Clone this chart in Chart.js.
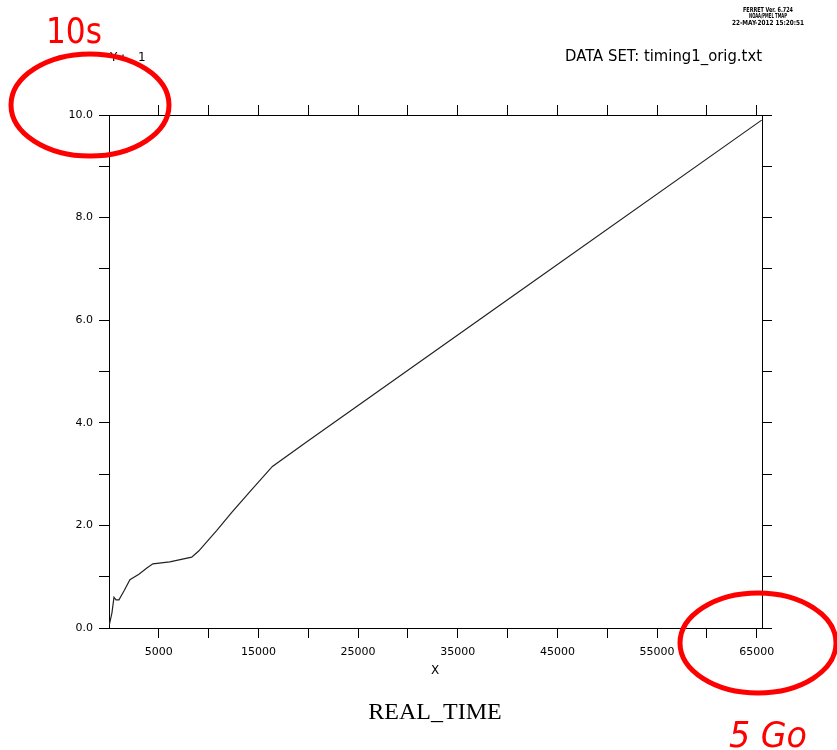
<!DOCTYPE html>
<html>
<head>
<meta charset="utf-8">
<script src="https://cdn.jsdelivr.net/npm/chart.js@4/dist/chart.umd.min.js"></script>
<style>
html,body{margin:0;padding:0;background:#fff;}
#wrap{position:relative;width:837px;height:750px;}
canvas{display:block;}
</style>
</head>
<body>
<div id="wrap"><canvas id="c" width="837" height="750"></canvas></div>
<script>
// ---- data ----
const realTimeX = [30, 300, 500, 700, 1000, 1500, 2100, 3000, 3800, 4400, 6100, 8300, 9000, 10800, 12300, 14100, 16400, 20000, 40000, 65500];
const realTimeY = [0.06, 0.3, 0.6, 0.55, 0.55, 0.72, 0.94, 1.05, 1.17, 1.25, 1.29, 1.38, 1.5, 1.9, 2.25, 2.65, 3.15, 3.65, 6.4, 9.9];

const xTickValues = [5000, 10000, 15000, 20000, 25000, 30000, 35000, 40000, 45000, 50000, 55000, 60000, 65000];
const xTickLabels = ['5000', '', '15000', '', '25000', '', '35000', '', '45000', '', '55000', '', '65000'];
const yTickValues = [0, 1, 2, 3, 4, 5, 6, 7, 8, 9, 10];
const yTickLabels = ['0.0', '', '2.0', '', '4.0', '', '6.0', '', '8.0', '', '10.0'];

const xMin = 0, xMax = 65536, yMin = 0, yMax = 10;

const titleText = 'REAL_TIME';
const xAxisText = 'X';
const dataSetText = 'DATA SET: timing1_orig.txt';
const topLeftParts = ['Y', ':', '1'];
const headerLines = ['FERRET Ver. 6.724', 'NOAA/PMEL TMAP', '22-MAY-2012 15:20:51'];
const noteTop = '10s';
const noteBottom = '5 Go';

// ---- chart ----
const points = realTimeX.map((x, i) => ({x: x, y: realTimeY[i]}));
const tickFont = {family: 'DejaVu Sans', size: 11};

function labelFrom(values, labels) {
  return function (v) {
    const i = values.indexOf(v);
    return i >= 0 ? labels[i] : '';
  };
}
function setTicks(values) {
  return function (s) { s.ticks = values.map(v => ({value: v})); };
}
const gridCommon = {drawOnChartArea: false, color: '#000', lineWidth: 1, tickLength: 10, tickWidth: 1, tickColor: '#000'};
const borderCommon = {display: true, color: '#000', width: 1};

const overlay = {
  id: 'overlay',
  afterDraw(chart) {
    const ctx = chart.ctx;
    ctx.save();
    ctx.fillStyle = '#000';
    // header
    ctx.font = 'bold 7px "DejaVu Sans Condensed", "DejaVu Sans"';
    ctx.textAlign = 'center';
    ctx.textBaseline = 'middle';
    const hw = [50, 38, 72];
    headerLines.forEach((t, i) => ctx.fillText(t, 768, 10 + i * 6.5, hw[i]));
    // data set
    ctx.font = '15px "DejaVu Sans"';
    ctx.textAlign = 'right';
    ctx.fillText(dataSetText, 762, 57, 197);
    // top-left
    ctx.font = '12px "DejaVu Sans"';
    ctx.textAlign = 'left';
    const tlx = [110, 121, 138];
    topLeftParts.forEach((t, i) => ctx.fillText(t, tlx[i], 58));
    // X axis name
    ctx.textAlign = 'center';
    ctx.font = '12px "DejaVu Sans"';
    ctx.fillText(xAxisText, 435, 671);
    // title
    ctx.font = '24px "Liberation Serif", "DejaVu Serif", serif';
    ctx.textBaseline = 'alphabetic';
    ctx.fillText(titleText, 435, 719);
    // red annotations
    ctx.strokeStyle = '#ff0000';
    ctx.fillStyle = '#ff0000';
    ctx.lineWidth = 5;
    ctx.beginPath();
    ctx.ellipse(90, 105, 79, 51, 0, 0, Math.PI * 2);
    ctx.stroke();
    ctx.beginPath();
    ctx.ellipse(758, 643, 78, 50, 0, 0, Math.PI * 2);
    ctx.stroke();
    ctx.textAlign = 'left';
    ctx.font = '36px "DejaVu Sans"';
    ctx.fillText(noteTop, 46, 43, 56);
    ctx.font = 'italic 36px "DejaVu Sans"';
    ctx.fillText(noteBottom, 729, 747, 78);
    ctx.restore();
  }
};

new Chart(document.getElementById('c'), {
  type: 'line',
  data: {
    datasets: [{
      data: points,
      borderColor: '#222',
      borderWidth: 1.2,
      pointRadius: 0,
      tension: 0,
      fill: false
    }]
  },
  options: {
    responsive: false,
    devicePixelRatio: 1,
    animation: false,
    layout: {padding: 0},
    plugins: {legend: {display: false}, tooltip: {enabled: false}, title: {display: false}},
    scales: {
      x: {
        type: 'linear', position: 'bottom', min: xMin, max: xMax,
        afterBuildTicks: setTicks(xTickValues),
        afterFit(s) { s.height = 122; },
        grid: gridCommon, border: borderCommon,
        ticks: {callback: labelFrom(xTickValues, xTickLabels), font: tickFont, color: '#000', padding: 8, maxRotation: 0, autoSkip: false}
      },
      x2: {
        type: 'linear', position: 'top', min: xMin, max: xMax,
        afterBuildTicks: setTicks(xTickValues),
        afterFit(s) { s.height = 115; },
        grid: gridCommon, border: borderCommon,
        ticks: {display: false}
      },
      y: {
        type: 'linear', position: 'left', min: yMin, max: yMax,
        afterBuildTicks: setTicks(yTickValues),
        afterFit(s) { s.width = 109; },
        grid: gridCommon, border: borderCommon,
        ticks: {callback: labelFrom(yTickValues, yTickLabels), font: tickFont, color: '#000', padding: 6, autoSkip: false}
      },
      y2: {
        type: 'linear', position: 'right', min: yMin, max: yMax,
        afterBuildTicks: setTicks(yTickValues),
        afterFit(s) { s.width = 75; },
        grid: gridCommon, border: borderCommon,
        ticks: {display: false}
      }
    }
  },
  plugins: [overlay]
});
</script>
</body>
</html>
